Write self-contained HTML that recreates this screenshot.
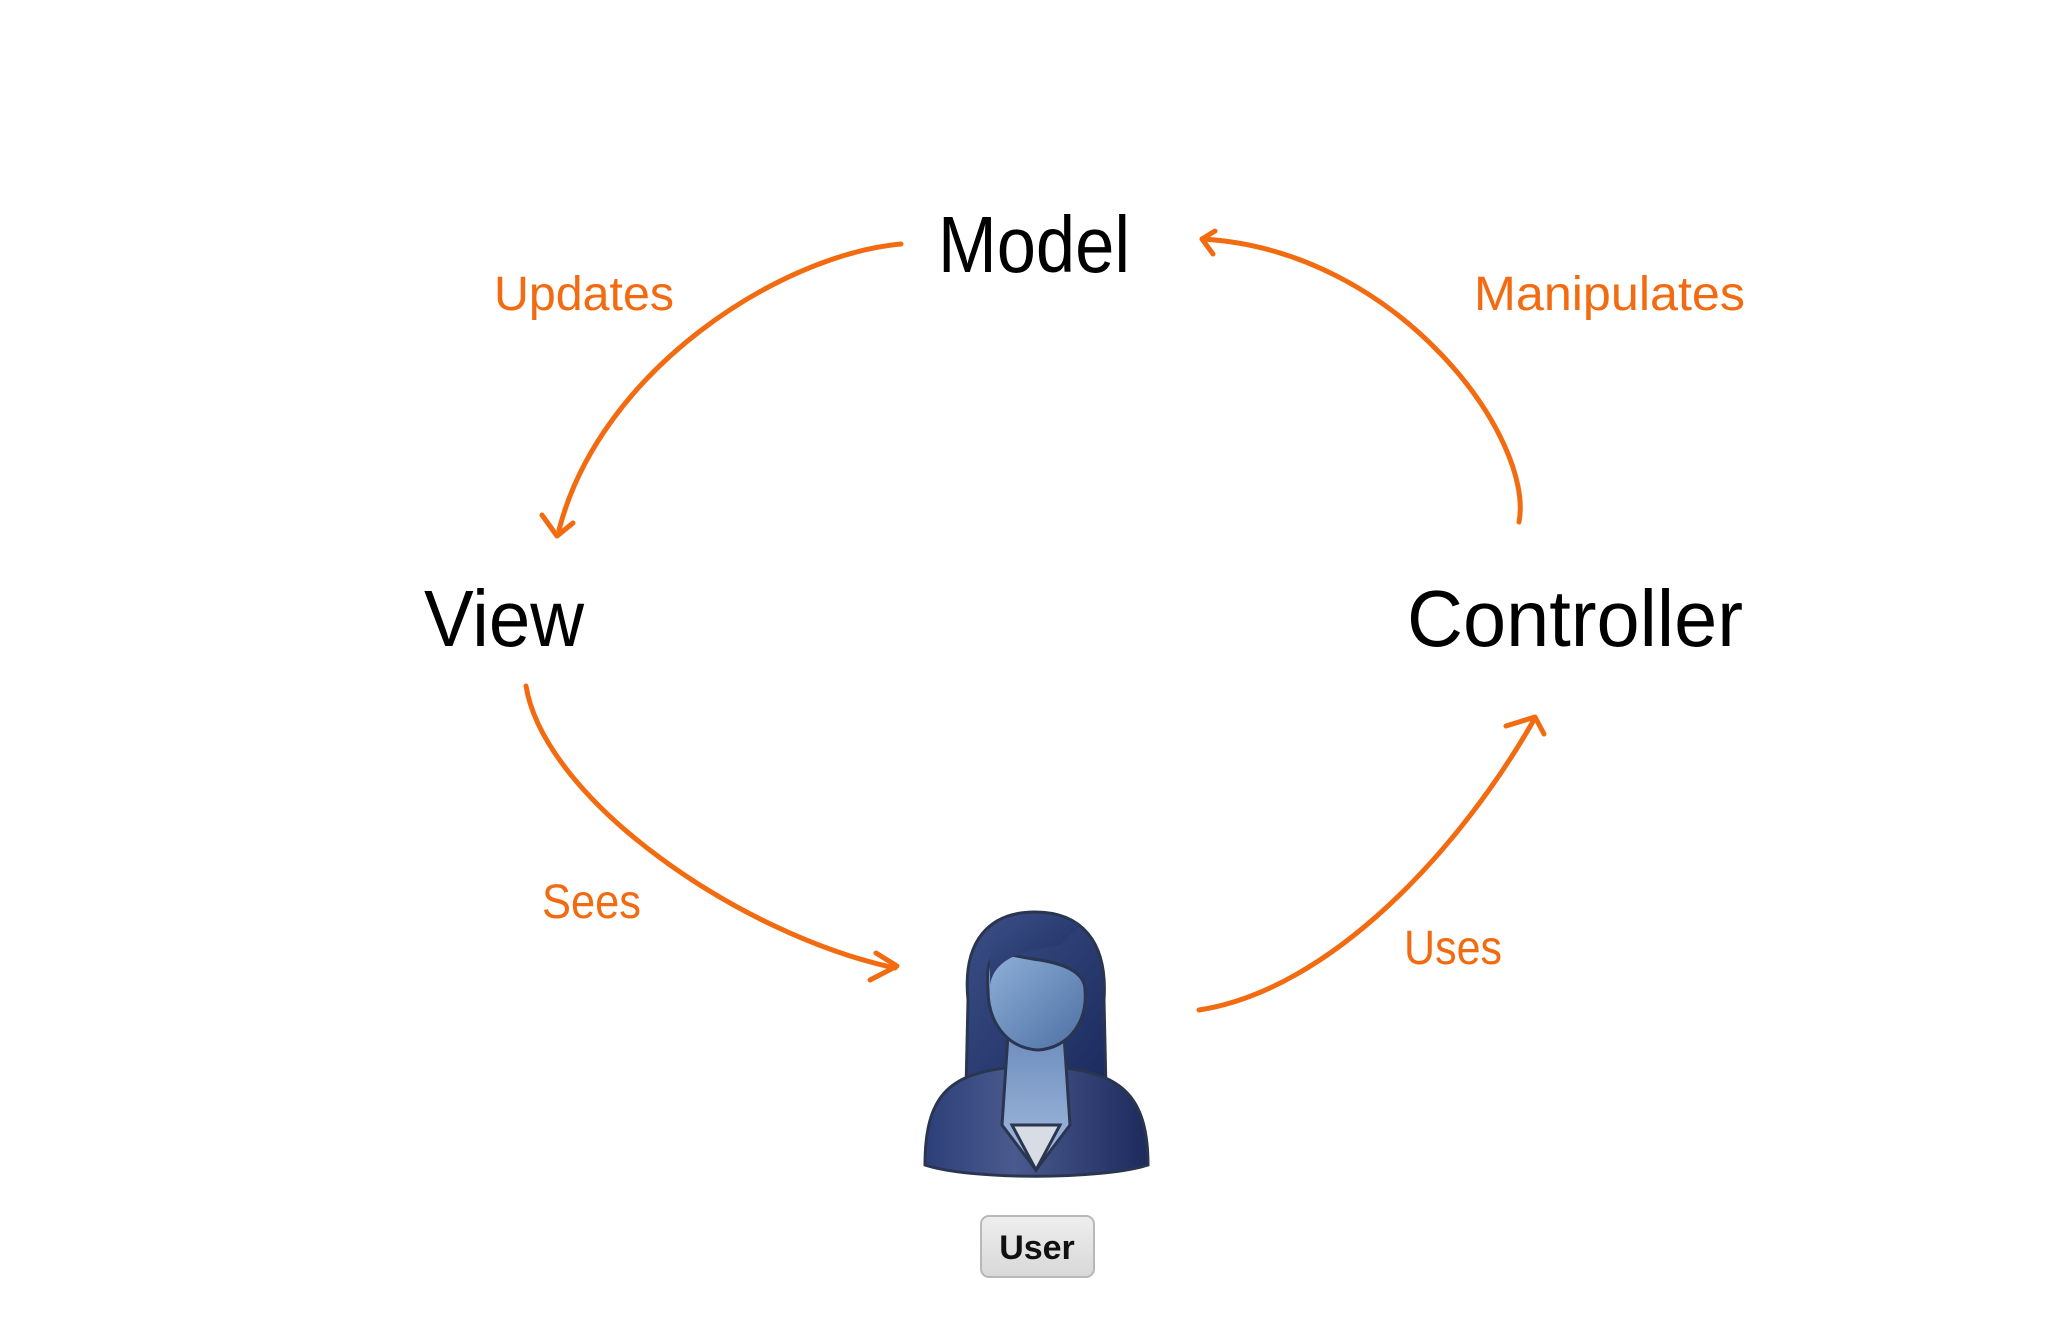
<!DOCTYPE html>
<html><head><meta charset="utf-8"><style>
html,body{margin:0;padding:0;background:#fff;width:2048px;height:1320px;overflow:hidden}
svg{display:block}
.n{font-family:"Liberation Sans",sans-serif;fill:#000}
.l{font-family:"Liberation Sans",sans-serif;fill:#f26b10}
</style></head><body>
<svg width="2048" height="1320" viewBox="0 0 2048 1320">
<defs>
<linearGradient id="hair" x1="0" y1="0" x2="1" y2="1"><stop offset="0" stop-color="#3a4f86"/><stop offset="1" stop-color="#1b2a5e"/></linearGradient>
<linearGradient id="body" x1="0" y1="0" x2="1" y2="0"><stop offset="0" stop-color="#2c3f78"/><stop offset="0.4" stop-color="#4a5a8e"/><stop offset="1" stop-color="#1c2a5c"/></linearGradient>
<linearGradient id="face" x1="0" y1="0" x2="1" y2="1"><stop offset="0" stop-color="#8fb0d8"/><stop offset="1" stop-color="#4c6fa3"/></linearGradient>
<linearGradient id="neck" x1="0" y1="0" x2="0" y2="1"><stop offset="0" stop-color="#6d8dbd"/><stop offset="1" stop-color="#a6bde0"/></linearGradient>
<linearGradient id="btn" x1="0" y1="0" x2="0" y2="1"><stop offset="0" stop-color="#eeeeee"/><stop offset="1" stop-color="#d8d8d8"/></linearGradient>
</defs>
<g fill="none" stroke="#f26b10" stroke-width="5" stroke-linecap="round" stroke-linejoin="round">
<path d="M901,244 C780,255 600,370 559,530"/>
<path d="M542,515 L557,536 L573,523"/>
<path d="M1519,522 C1535,440 1400,250 1202,239"/>
<path d="M1215,231 L1202,239 L1213,254"/>
<path d="M526,686 C545,800 740,935 895,968"/>
<path d="M876,953 L897,966 L870,980"/>
<path d="M1199,1010 C1330,990 1460,850 1535,718"/>
<path d="M1506,726 L1535,717 L1544,734"/>
</g>
<text class="n" x="938" y="272" font-size="80" textLength="192" lengthAdjust="spacingAndGlyphs">Model</text>
<text class="n" x="424" y="646" font-size="80" textLength="160" lengthAdjust="spacingAndGlyphs">View</text>
<text class="n" x="1407" y="646" font-size="80" textLength="336" lengthAdjust="spacingAndGlyphs">Controller</text>
<text class="l" x="494" y="310" font-size="48" textLength="180" lengthAdjust="spacingAndGlyphs">Updates</text>
<text class="l" x="1474" y="310" font-size="48" textLength="271" lengthAdjust="spacingAndGlyphs">Manipulates</text>
<text class="l" x="542" y="918" font-size="48" textLength="99" lengthAdjust="spacingAndGlyphs">Sees</text>
<text class="l" x="1404" y="964" font-size="48" textLength="98" lengthAdjust="spacingAndGlyphs">Uses</text>
<g stroke="#2a3550" stroke-width="3">
<path d="M968,1000 C962,940 990,912 1035,912 C1080,912 1108,940 1104,1000 L1106,1090 L966,1090 Z" fill="url(#hair)"/>
<path d="M925,1165 C925,1095 950,1075 1005,1068 L1065,1068 C1120,1075 1148,1095 1148,1165 C1100,1180 970,1180 925,1165 Z" fill="url(#body)"/>
<path d="M1008,1035 L1064,1035 L1070,1125 L1036,1170 L1002,1125 Z" fill="url(#neck)"/>
<path d="M1012,1125 L1060,1125 L1036,1170 Z" fill="#d8dce4"/>
<path d="M988,990 C985,940 1000,955 1040,960 C1070,965 1085,975 1085,990 C1088,1020 1070,1048 1038,1050 C1005,1048 988,1020 988,990 Z" fill="url(#face)"/>
<path d="M990,985 C995,955 1030,950 1060,945 L1080,925 C1060,912 1010,915 990,950 Z" fill="url(#hair)" stroke="none"/>
</g>
<rect x="981" y="1216" width="113" height="61" rx="8" fill="url(#btn)" stroke="#b8b8b8" stroke-width="2"/>
<text x="1037" y="1259" text-anchor="middle" font-family="Liberation Sans,sans-serif" font-weight="bold" font-size="34" fill="#111">User</text>
</svg>
</body></html>
